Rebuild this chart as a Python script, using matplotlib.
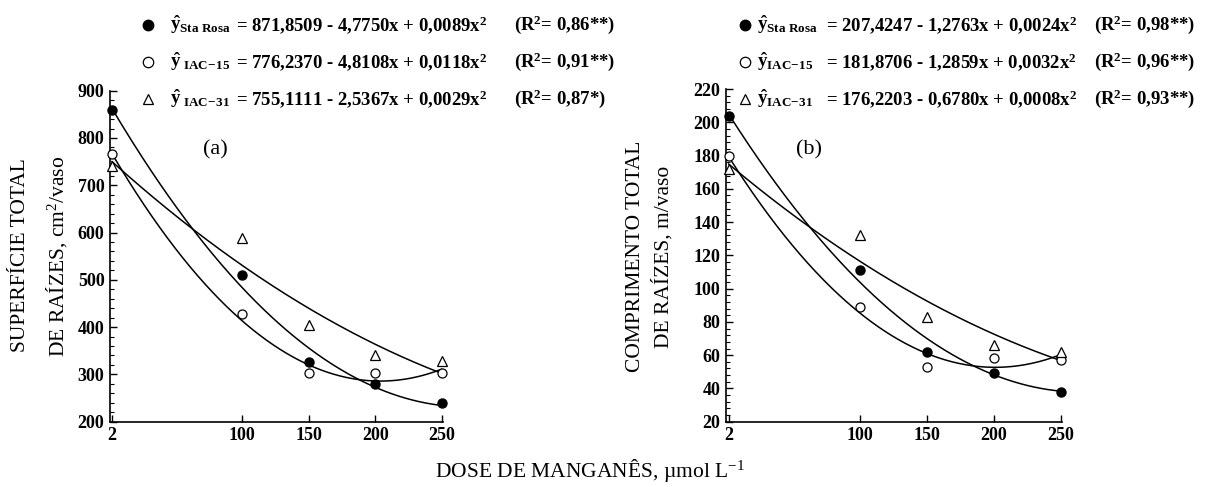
import numpy as np
import matplotlib.pyplot as plt
from matplotlib.ticker import MultipleLocator

plt.rcParams['font.family'] = ['Liberation Serif', 'DejaVu Serif']
plt.rcParams['mathtext.fontset'] = 'custom'
plt.rcParams['mathtext.rm'] = 'Liberation Serif:bold'
plt.rcParams['mathtext.it'] = 'Liberation Serif:bold'
plt.rcParams['mathtext.bf'] = 'Liberation Serif:bold'

# doses de Mn
doses = [2, 100, 150, 200, 250]
x_ticks = [2, 100, 150, 200, 250]

# (a) superfície total de raízes, cm2/vaso
sup_sta_rosa = [860, 510, 327, 279, 239]
sup_iac15 = [767, 427, 304, 303, 304]
sup_iac31 = [740, 588, 405, 341, 328]

# (b) comprimento total de raízes, m/vaso
comp_sta_rosa = [204, 111, 62, 49, 38]
comp_iac15 = [180, 89, 53, 58, 57]
comp_iac31 = [172, 132, 83, 66, 62]

# coeficientes das regressões (b0, b1, b2)
coef_sup = [[871.8509, -4.7750, 0.0089], [776.2370, -4.8108, 0.0118], [755.1111, -2.5367, 0.0029]]
coef_comp = [[207.4247, -1.2763, 0.0024], [181.8706, -1.2859, 0.0032], [176.2203, -0.6780, 0.0008]]

yhat_sup = [r'$\hat{y}_{\mathrm{Sta\ Rosa}}$', r'$\hat{y}_{\mathrm{\ IAC\!-\!15}}$', r'$\hat{y}_{\mathrm{\ IAC\!-\!31}}$']
eq_sup = ['= 871,8509 - 4,7750x + 0,0089x$^{2}$', '= 776,2370 - 4,8108x + 0,0118x$^{2}$',
          '= 755,1111 - 2,5367x + 0,0029x$^{2}$']
r2_sup = ['(R$^{2}$= 0,86**)', '(R$^{2}$= 0,91**)', '(R$^{2}$= 0,87*)']

yhat_comp = [r'$\hat{y}_{\mathrm{Sta\ Rosa}}$', r'$\hat{y}_{\mathrm{IAC\!-\!15}}$', r'$\hat{y}_{\mathrm{IAC\!-\!31}}$']
eq_comp = ['= 207,4247 - 1,2763x + 0,0024x$^{2}$', '= 181,8706 - 1,2859x + 0,0032x$^{2}$',
           '= 176,2203 - 0,6780x + 0,0008x$^{2}$']
r2_comp = ['(R$^{2}$= 0,98**)', '(R$^{2}$= 0,96**)', '(R$^{2}$= 0,93**)']

markers = [dict(marker='o', mfc='black', mec='black'),
           dict(marker='o', mfc='white', mec='black', mew=0.9),
           dict(marker='^', mfc='white', mec='black', mew=0.9)]

W, H = 1207, 487
fig = plt.figure(figsize=(W / 100, H / 100), dpi=100)
ax1 = fig.add_axes([110 / W, 1 - 421.7 / H, 333.0 / W, 331.0 / H])
ax2 = fig.add_axes([726 / W, 1 - 421.7 / H, 336.3 / W, 332.7 / H])


def draw_panel(ax, series, coefs, ylim, ymaj, ymin, xlim):
    xs = np.linspace(2, 250, 300)
    for c in coefs:
        ax.plot(xs, c[0] + c[1] * xs + c[2] * xs ** 2, color='black', lw=1.1, zorder=2)
    for vals, mk in zip(series, markers):
        ax.plot(doses, vals, ls='none', ms=6.5, zorder=3, clip_on=False, **mk)
    ax.set_xlim(*xlim)
    ax.set_ylim(*ylim)
    ax.set_xticks(x_ticks)
    ax.yaxis.set_major_locator(MultipleLocator(ymaj))
    ax.yaxis.set_minor_locator(MultipleLocator(ymin))
    ax.spines['top'].set_visible(False)
    ax.spines['right'].set_visible(False)
    for s in ['left', 'bottom']:
        ax.spines[s].set_linewidth(1.2)
    ax.tick_params(direction='in', length=5, width=1, labelsize=13, pad=4)
    ax.tick_params(which='minor', direction='in', length=3, width=0.8)
    for lab in ax.get_xticklabels() + ax.get_yticklabels():
        lab.set_fontweight('bold')


draw_panel(ax1, [sup_sta_rosa, sup_iac15, sup_iac31], coef_sup, (200, 900), 100, 20, (0.5, 251))
draw_panel(ax2, [comp_sta_rosa, comp_iac15, comp_iac31], coef_comp, (20, 220), 20, 4, (0, 251))

fig.text(215 / W, 1 - 150 / H, '(a)', fontsize=16, ha='center', va='center')
fig.text(809 / W, 1 - 150 / H, '(b)', fontsize=16, ha='center', va='center')

# legendas com equações
rows_y = [25, 62, 99]


def legend_rows(x_mk, x_yhat, x_eq, x_r2, yhats, eqs, r2s):
    for i in range(3):
        y = 1 - rows_y[i] / H
        fig.lines.append(plt.Line2D([x_mk / W], [y], transform=fig.transFigure, ls='none', ms=7.5, **markers[i]))
        fig.text(x_yhat / W, y, yhats[i], fontsize=13.5, va='center', ha='left')
        fig.text(x_eq / W, y, eqs[i], fontsize=13.5, fontweight='bold', va='center', ha='left')
        fig.text(x_r2 / W, y, r2s[i], fontsize=13.5, fontweight='bold', va='center', ha='left')


legend_rows(148, 170, 236, 514, yhat_sup, eq_sup, r2_sup)
legend_rows(745, 757, 826, 1094, yhat_comp, eq_comp, r2_comp)

# rótulos dos eixos
fig.text(21 / W, 1 - 255 / H, 'SUPERFÍCIE TOTAL', rotation=90, fontsize=15.5, ha='center', va='center')
fig.text(57 / W, 1 - 256 / H, 'DE RAÍZES, cm$^{\\mathregular{2}}$/vaso', rotation=90, fontsize=15.5,
         ha='center', va='center')
fig.text(636 / W, 1 - 256 / H, 'COMPRIMENTO TOTAL', rotation=90, fontsize=15.5, ha='center', va='center')
fig.text(663 / W, 1 - 257 / H, 'DE RAÍZES, m/vaso', rotation=90, fontsize=15.5, ha='center', va='center')
fig.text(590 / W, 1 - 470 / H, 'DOSE DE MANGANÊS, µmol L$^{\\mathregular{-1}}$', fontsize=15.5,
         ha='center', va='center')

fig.savefig('out.png', dpi=100)
